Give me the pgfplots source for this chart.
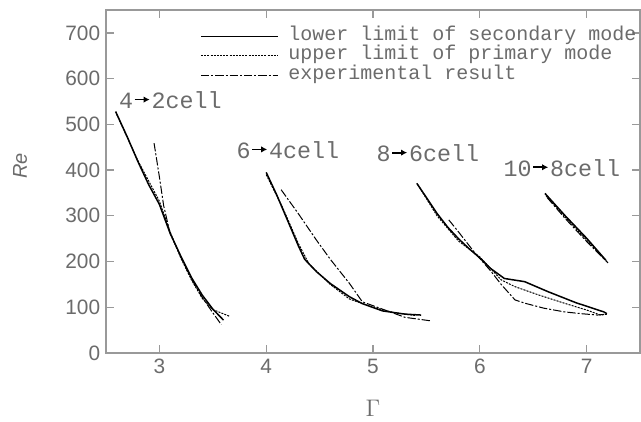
\documentclass[border=0pt]{standalone}
\usepackage{pgfplots}
\pgfplotsset{compat=1.18}
\usepackage{fontspec}
\setmainfont{Liberation Sans}
\newfontfamily\cour{Liberation Mono}
\usetikzlibrary{calc,arrows.meta}
\definecolor{axgray}{gray}{0.6}
\definecolor{txtgray}{gray}{0.42}

\tikzset{
  lowsec/.style={black, line width=0.9pt},
  upprim/.style={black, line width=0.6pt, dash pattern=on 1.2pt off 0.7pt},
  expres/.style={black, line width=0.6pt, dash pattern=on 5pt off 1.2pt on 1.2pt off 1.2pt},
}
% the short black arrow in the cell labels
\newcommand\arr{\kern0.4pt\tikz[baseline=-0.38em]\draw[black, line width=1.1pt, -{Latex[length=3.6pt,width=3.8pt]}] (0,0)--(9pt,0);\kern0.6pt}

\begin{document}
\begin{tikzpicture}
\begin{axis}[
  scale only axis,
  width=320.4pt, height=205.8pt,
  xmin=2.5, xmax=7.5, ymin=0, ymax=750,
  xtick={3,4,5,6,7}, ytick={0,100,...,700},
  axis line style={axgray, line width=1.2pt},
  tick style={axgray, line width=0.8pt},
  major tick length=5pt,
  tick label style={font=\fontsize{12.5}{12.5}\selectfont, text=txtgray},
  /pgf/number format/assume math mode=true,
  xlabel={$\Gamma$},
  xlabel style={font=\fontsize{15}{15}\selectfont, text=txtgray, at={(axis description cs:0.5,-0.16)}, anchor=center},
  ylabel={\textit{Re}},
  ylabel style={font=\fontsize{12}{12}\selectfont, text=txtgray, at={(axis description cs:-0.161,0.545)}, anchor=center},
  legend style={at={(axis description cs:0.176,0.946)}, anchor=north west,
    draw=none, fill=none, font=\cour\fontsize{12}{12}\selectfont, text=txtgray,
    row sep=2.6pt, inner sep=0pt,
    nodes={inner sep=0pt, text height=7pt, text depth=2pt},
    /tikz/every odd column/.append style={column sep=6pt}},
  legend cell align=left,
  legend image code/.code={\draw[#1] (0pt,0pt) -- (46pt,0pt);},
]
% 4 -> 2 cell
\addplot[lowsec] coordinates {(2.59,528) (2.7,472) (2.8,418) (2.9,368) (3.0,325) (3.1,262) (3.2,212) (3.3,165) (3.4,127) (3.5,96) (3.6,72)};
\addlegendentry{lower limit of secondary mode}
\addplot[upprim] coordinates {(2.6,522) (2.8,420) (3.0,332) (3.1,265) (3.2,208) (3.3,160) (3.4,120) (3.5,95) (3.66,80)};
\addlegendentry{upper limit of primary mode}
\addplot[expres] coordinates {(2.95,459) (3.0,385) (3.04,322) (3.1,262) (3.2,210) (3.3,162) (3.4,122) (3.5,88) (3.58,62)};
\addlegendentry{experimental result}
% 6 -> 4 cell
\addplot[lowsec, forget plot] coordinates {(4.0,395) (4.1,345) (4.2,290) (4.3,235) (4.36,205) (4.47,178) (4.6,152) (4.78,123) (4.9,108) (5.09,92) (5.3,85) (5.45,83)};
\addplot[upprim, forget plot] coordinates {(4.0,390) (4.15,320) (4.3,240) (4.4,195) (4.6,150) (4.78,118) (5.0,100) (5.2,88) (5.4,82)};
\addplot[expres, forget plot] coordinates {(4.14,357) (4.3,305) (4.47,247) (4.6,205) (4.78,152) (4.9,112) (5.1,95) (5.3,78) (5.55,70)};
% 8 -> 6 cell
\addplot[lowsec, forget plot] coordinates {(5.41,371) (5.5,340) (5.6,305) (5.7,275) (5.8,250) (5.9,228) (6.0,208) (6.1,185) (6.23,163) (6.42,156) (6.64,134) (6.9,110) (7.16,90) (7.19,86)};
\addplot[upprim, forget plot] coordinates {(5.42,368) (5.6,300) (5.8,245) (6.0,210) (6.1,185) (6.2,160) (6.33,145) (6.55,127) (6.79,109) (7.0,94) (7.13,83) (7.19,85)};
\addplot[expres, forget plot] coordinates {(5.71,291) (5.8,265) (5.95,220) (6.1,180) (6.2,150) (6.33,116) (6.42,109) (6.6,98) (6.79,90) (6.95,86) (7.1,83) (7.19,85)};
% 10 -> 8 cell
\addplot[lowsec, forget plot] coordinates {(6.61,349) (6.8,300) (7.0,251) (7.18,203)};
\addplot[upprim, forget plot] coordinates {(6.62,344) (6.8,297) (7.0,247) (7.19,200)};
\addplot[expres, forget plot] coordinates {(6.63,340) (6.8,294) (7.0,244) (7.2,197)};

\node[anchor=west, inner sep=0pt, font=\cour\fontsize{14}{14}\selectfont, text=txtgray] at (axis cs:2.62,553) {4\arr2cell};
\node[anchor=west, inner sep=0pt, font=\cour\fontsize{14}{14}\selectfont, text=txtgray] at (axis cs:3.72,444) {6\arr4cell};
\node[anchor=west, inner sep=0pt, font=\cour\fontsize{14}{14}\selectfont, text=txtgray] at (axis cs:5.03,437) {8\arr6cell};
\node[anchor=west, inner sep=0pt, font=\cour\fontsize{14}{14}\selectfont, text=txtgray] at (axis cs:6.22,405) {10\arr8cell};
\end{axis}
\pgfresetboundingbox
\path[use as bounding box] ($(current axis.south west)+(-63.6pt,-40.8pt)$) rectangle ($(current axis.north east)+(0.6pt,6pt)$);
\end{tikzpicture}
\end{document}
